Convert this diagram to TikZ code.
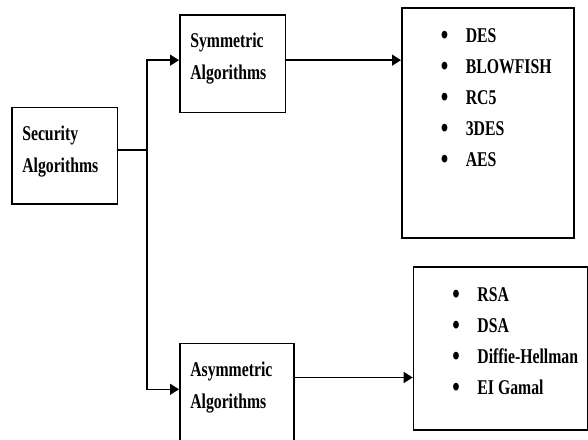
\documentclass[tikz,border=0pt]{standalone}
\usepackage{fontspec}
\setmainfont{Liberation Serif}[FakeStretch=0.75]
\usepackage{tikz}
\usetikzlibrary{arrows.meta}
\tikzset{
	box node/.style={draw,line width=1.6pt,inner sep=0pt,anchor=north west},
	box text/.style={inner sep=0pt,anchor=north west,align=left,font=\fontsize{21}{32}\selectfont\bfseries},
	item/.style={inner sep=0pt,anchor=base west,font=\fontsize{21}{24}\selectfont\bfseries}
}
\newcommand{\itembullet}{\makebox[25pt][l]{\raisebox{-2pt}{\scalebox{1.35}{\textbullet}}}}

\begin{document}
\begin{tikzpicture}[x=1pt,y=-1pt,>={Triangle[length=9pt,width=11pt]},line width=1.5pt]
	\useasboundingbox (0,0) rectangle (588,439);
	% boxes
	\node [box node,minimum width=105.5pt,minimum height=96.5pt] (sec) at (11,106.5) {};
	\node [box node,minimum width=105.5pt,minimum height=97.7pt] (sym) at (179,14) {};
	\node [box node,minimum width=114pt,minimum height=100pt] (asym) at (179,342.5) {};
	\node [box node,minimum width=172pt,minimum height=230pt] (symList) at (401,7.3) {};
	\node [box node,minimum width=174.6pt,minimum height=163pt] (asymList) at (412.7,266) {};
	\node [box text] (secText) at ([shift={(10.5pt,-18.5pt)}]sec.north west) {Security\\Algorithms};
	\node [box text] (symText) at ([shift={(10.5pt,-18.5pt)}]sym.north west) {Symmetric\\Algorithms};
	\node [box text] (asymText) at ([shift={(10.5pt,-18.5pt)}]asym.north west) {Asymmetric\\Algorithms};
	\foreach \alg [count=\i] in {DES,BLOWFISH,RC5,3DES,AES}
		\node [item] (symItem\i) at ([xshift=39pt,yshift={-35pt-31pt*(\i-1)}]symList.north west) {\itembullet\alg};
	\foreach \alg [count=\i] in {RSA,DSA,Diffie-Hellman,EI Gamal}
		\node [item] (asymItem\i) at ([xshift=39pt,yshift={-35pt-31pt*(\i-1)}]asymList.north west) {\itembullet\alg};
	% connectors
	\coordinate (secOut) at ([yshift=5.75pt]sec.east);
	\coordinate (split) at ([xshift=29pt]secOut);
	\coordinate (symIn) at ([yshift=3.5pt]sym.west);
	\coordinate (asymIn) at ([yshift=4pt]asym.west);
	\coordinate (symOut) at ([yshift=3.5pt]sym.east);
	\coordinate (asymOut) at ([yshift=15.8pt]asym.east);
	\draw (secOut) -- (split);
	\draw [->] (split) |- (symIn);
	\draw [->] (split) |- (asymIn);
	\draw [->] (symOut) -- (symOut -| symList.west);
	\draw [->] (asymOut) -- (asymOut -| asymList.west);
\end{tikzpicture}
\end{document}
